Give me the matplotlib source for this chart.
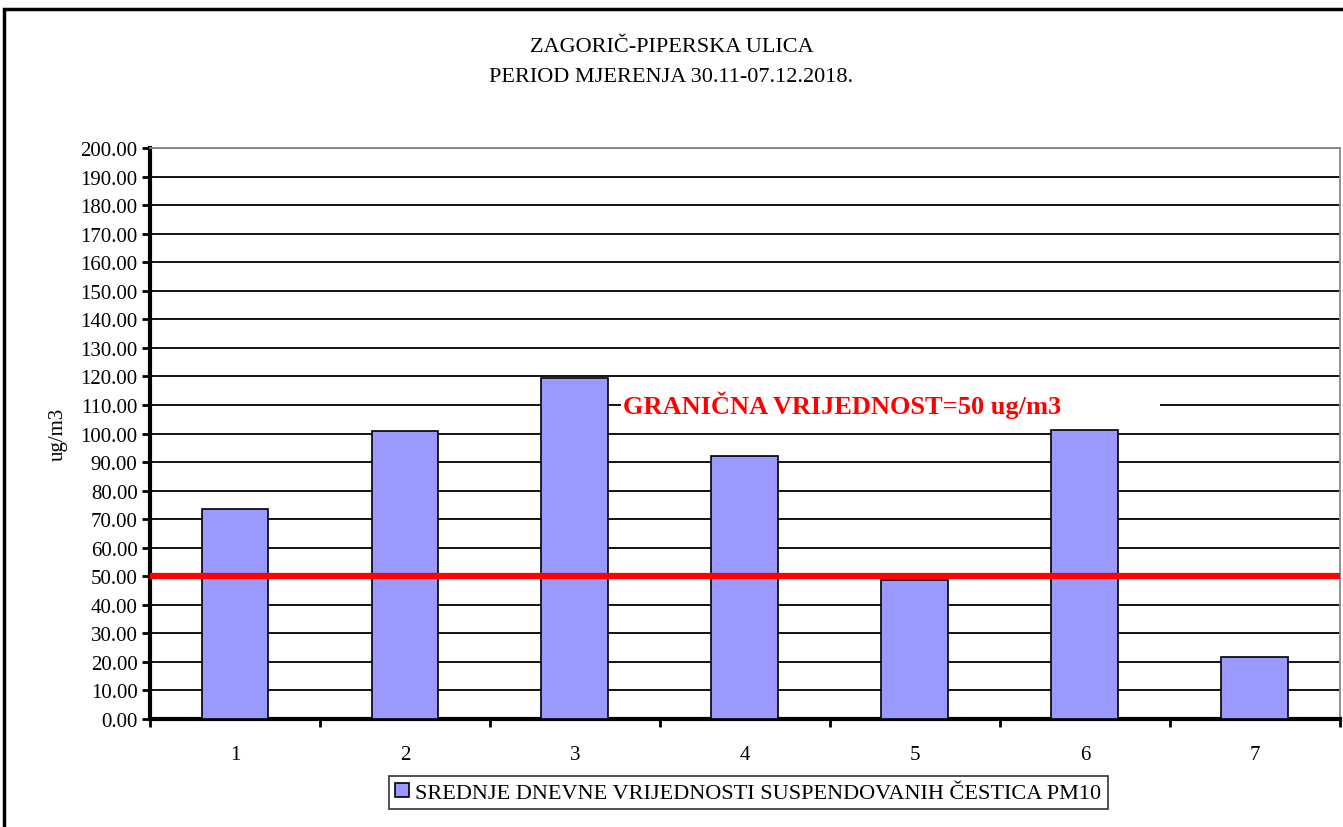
import matplotlib.pyplot as plt
import matplotlib.ticker as mticker
from matplotlib.patches import Rectangle

plt.rcParams['font.family'] = ['Liberation Serif', 'DejaVu Serif']

# data
days = ['1', '2', '3', '4', '5', '6', '7']
pm10 = [73.7, 101.0, 119.3, 92.3, 48.7, 101.4, 21.9]
limit = 50
title_lines = ['ZAGORIČ-PIPERSKA ULICA', 'PERIOD MJERENJA 30.11-07.12.2018.']
series_name = 'SREDNJE DNEVNE VRIJEDNOSTI SUSPENDOVANIH ČESTICA PM10'
limit_label = 'GRANIČNA VRIJEDNOST=50 ug/m3'

fig = plt.figure(figsize=(13.43, 8.28), dpi=100)
ax = fig.add_axes([0.1117, 0.1304, 0.886, 0.6896])

# outer chart frame (right and bottom cut off in the original)
fig.patches.append(Rectangle((0.003, -0.1), 1.2, 1.088, transform=fig.transFigure,
                             fill=False, edgecolor='black', linewidth=2.5, clip_on=False))

x = list(range(len(days)))
ax.bar(x, pm10, width=0.394, color='#9999ff', edgecolor='black', linewidth=1.2,
       label=series_name, zorder=3)
ax.axhline(limit, color='red', linewidth=4.5, zorder=4)

ax.set_xlim(-0.5, len(days) - 0.5)
ax.set_ylim(0, 200)
ax.yaxis.set_major_locator(mticker.MultipleLocator(10))
ax.yaxis.set_major_formatter(mticker.FormatStrFormatter('%.2f'))
ax.grid(axis='y', color='black', linewidth=1.3, zorder=0)
ax.set_axisbelow(True)

ax.set_xticks(x)
ax.set_xticklabels(days)
ax.set_xticks([i - 0.5 for i in range(len(days) + 1)], minor=True)
ax.tick_params(axis='x', which='major', length=0, pad=19, labelsize=15)
ax.tick_params(axis='x', which='minor', length=6, width=2, direction='out')
ax.tick_params(axis='y', length=6, width=2, direction='out', labelsize=15, pad=3)

for side in ['left', 'bottom']:
    ax.spines[side].set_linewidth(3)
for side in ['top', 'right']:
    ax.spines[side].set_color('#888888')
    ax.spines[side].set_linewidth(1.3)

ax.set_ylabel('ug/m3', fontsize=15, labelpad=9)

# white box behind the limit label hides part of the 110 gridline
ax.add_patch(Rectangle((2.27, 104), 3.17, 12, facecolor='white', edgecolor='none', zorder=1))
ax.text(2.285, 110.3, limit_label, color='red', fontsize=19, fontweight='bold',
        va='center', ha='left', zorder=5)

fig.text(0.5, 0.943, title_lines[0], ha='center', va='center', fontsize=16)
fig.text(0.5, 0.907, title_lines[1], ha='center', va='center', fontsize=16)

leg = ax.legend(loc='upper center', bbox_to_anchor=(0.503, -0.0998), frameon=True,
                fancybox=False, edgecolor='black', fontsize=16, handlelength=0.6,
                handleheight=0.6, handletextpad=0.3, borderpad=0.3, borderaxespad=0)
leg.get_frame().set_linewidth(1.2)

fig.savefig('out.png', dpi=100)
